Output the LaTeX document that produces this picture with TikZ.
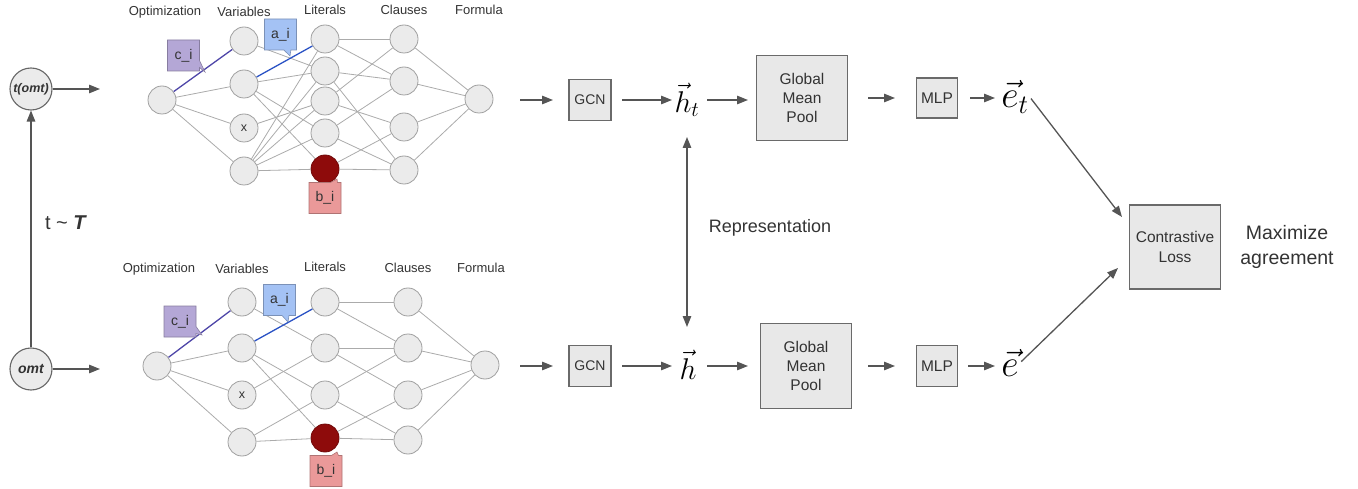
\RequirePackage{fix-cm}
\documentclass[tikz,border=0pt]{standalone}
\usepackage{fontspec}
\setmainfont{Liberation Sans}
\usetikzlibrary{arrows.meta,shapes.callouts}
\definecolor{nodefill}{HTML}{EBEBEB}
\definecolor{nodedraw}{HTML}{A0A0A0}
\definecolor{edgec}{HTML}{ABABAB}
\definecolor{boxfill}{HTML}{E8E8E8}
\definecolor{boxdraw}{HTML}{6A6A6A}
\definecolor{arrc}{HTML}{555555}
\definecolor{txt}{HTML}{333333}
\definecolor{cpurple}{HTML}{B4A7D6}
\definecolor{cblue}{HTML}{A4C2F4}
\definecolor{cred}{HTML}{EA9999}
\definecolor{dred}{HTML}{8E0B0B}
\definecolor{purpline}{HTML}{4E46A8}
\definecolor{blueline}{HTML}{2A52C4}
\newcommand{\myfs}[1]{\fontsize{#1}{#1}\selectfont}
\begin{document}
\begin{tikzpicture}[x=1pt,y=-1pt,
 gn/.style={circle,draw=nodedraw,fill=nodefill,line width=0.8pt,minimum size=28pt,inner sep=0pt,font=\myfs{12.5},text=txt},
 rn/.style={gn,fill=dred,draw=dred!80!black},
 ed/.style={draw=edgec,line width=0.8pt},
 lbl/.style={font=\myfs{13},text=txt},
 box/.style={draw=boxdraw,fill=boxfill,line width=1.2pt,align=center,text=txt,inner sep=0pt},
 arr/.style={draw=arrc,line width=1.3pt,-{Triangle[length=11pt,width=8.5pt]}},
 darr/.style={draw=arrc,line width=1.3pt,{Triangle[length=11pt,width=8.5pt]}-{Triangle[length=11pt,width=8.5pt]}},
 co/.style={rectangle callout,draw=#1!75!black,fill=#1,line width=0.6pt,minimum width=32pt,minimum height=31pt,inner sep=0pt,font=\myfs{14},text=txt,callout pointer width=7pt},
 circ/.style={circle,draw=arrc!90,fill=nodefill,line width=1.1pt,minimum size=42pt,inner sep=0pt,text=txt},
 ]
\useasboundingbox (0,0) rectangle (1358,489);

% ---------- left ----------
\node[circ,font=\bfseries\itshape\myfs{12.5}] (tomt) at (31,89) {t(omt)};
\node[circ,font=\bfseries\itshape\myfs{14}] (omt) at (31,369) {omt};
\coordinate (tgo) at (100,89);
\coordinate (ogo) at (100,369);
\draw[arr] (tomt) -- (tgo);
\draw[arr] (omt) -- (ogo);
\draw[arr] (omt) -- (tomt);
\node[font=\myfs{20},text=txt] (tt) at (66,223) {t \symbol{126} \textbf{\textit{T}}};

% ---------- top graph ----------
\node[lbl] (tlO) at (165,12) {Optimization};
\node[lbl] (tlV) at (244,12) {Variables};
\node[lbl] (tlL) at (325,10) {Literals};
\node[lbl] (tlC) at (404,10) {Clauses};
\node[lbl] (tlF) at (479,10) {Formula};
\node[gn] (tO) at (162,100) {};
\node[gn] (tV1) at (244,41) {};
\node[gn] (tV2) at (244,84) {};
\node[gn] (tV3) at (244,128) {x};
\node[gn] (tV4) at (244,171) {};
\node[gn] (tL1) at (325,39) {};
\node[gn] (tL2) at (325,71) {};
\node[gn] (tL3) at (325,101) {};
\node[gn] (tL4) at (325,133) {};
\node[rn] (tL5) at (325,169) {};
\node[gn] (tC1) at (404,39) {};
\node[gn] (tC2) at (404,81) {};
\node[gn] (tC3) at (404,127) {};
\node[gn] (tC4) at (404,170) {};
\node[gn] (tF) at (479,99) {};
\foreach \a/\b in {tO/tV2,tO/tV3,tO/tV4,
  tV1/tL2,tV2/tL2,tV2/tL4,tV2/tL5,tV3/tL3,tV4/tL1,tV4/tL2,tV4/tL3,tV4/tL4,tV4/tL5,
  tL1/tC1,tL1/tC2,tL2/tC2,tL2/tC4,tL3/tC1,tL3/tC3,tL4/tC2,tL4/tC4,tL5/tC3,tL5/tC4,
  tC1/tF,tC2/tF,tC3/tF,tC4/tF}
  \draw[ed] (\a) -- (\b);
\draw[draw=purpline,line width=1.3pt] (tO) -- (tV1);
\draw[draw=blueline,line width=1.3pt] (tV2) -- (tL1);
\node[co=cpurple,callout absolute pointer={(205,72)}] (tci) at (183.5,55.5) {c\_i};
\node[co=cblue,callout absolute pointer={(290,56)}] (tai) at (280.5,34.5) {a\_i};
\node[co=cred,callout absolute pointer={(337,179)}] (tbi) at (325,198) {b\_i};

% ---------- bottom graph ----------
\node[lbl] (blO) at (159,269) {Optimization};
\node[lbl] (blV) at (242,269) {Variables};
\node[lbl] (blL) at (325,267) {Literals};
\node[lbl] (blC) at (408,268) {Clauses};
\node[lbl] (blF) at (481,268) {Formula};
\node[gn] (bO) at (157,366) {};
\node[gn] (bV1) at (242,302) {};
\node[gn] (bV2) at (242,348) {};
\node[gn] (bV3) at (242,395) {x};
\node[gn] (bV4) at (242,442) {};
\node[gn] (bL1) at (325,302) {};
\node[gn] (bL2) at (325,348) {};
\node[gn] (bL3) at (325,395) {};
\node[rn] (bL5) at (325,438) {};
\node[gn] (bC1) at (408,302) {};
\node[gn] (bC2) at (408,348) {};
\node[gn] (bC3) at (408,395) {};
\node[gn] (bC4) at (408,440) {};
\node[gn] (bF) at (485,365) {};
\foreach \a/\b in {bO/bV2,bO/bV3,bO/bV4,
  bV1/bL2,bV2/bL3,bV2/bL5,bV3/bL2,bV4/bL3,bV4/bL5,
  bL1/bC1,bL1/bC2,bL2/bC2,bL2/bC3,bL3/bC2,bL3/bC4,bL5/bC3,bL5/bC4,
  bC1/bF,bC2/bF,bC3/bF,bC4/bF}
  \draw[ed] (\a) -- (\b);
\draw[draw=purpline,line width=1.3pt] (bO) -- (bV1);
\draw[draw=blueline,line width=1.3pt] (bV2) -- (bL1);
\node[co=cpurple,callout absolute pointer={(202,335)}] (bci) at (180,321.5) {c\_i};
\node[co=cblue,callout absolute pointer={(288,322)}] (bai) at (279.5,300) {a\_i};
\node[co=cred,callout absolute pointer={(337,452)}] (bbi) at (326,471) {b\_i};

% ---------- pipeline top ----------
\coordinate (in1) at (520,100);
\node[box,minimum width=42pt,minimum height=41pt,font=\myfs{14}] (gcn1) at (590,100) {GCN};
\node[inner sep=1pt] (ht) at (687,100) {\myfs{30}$\vec{h}_t$};
\node[box,minimum width=91pt,minimum height=85pt,font=\fontsize{15.5}{19}\selectfont] (gmp1) at (802,98) {Global\\Mean\\Pool};
\node[box,minimum width=41pt,minimum height=40pt,font=\myfs{15.5}] (mlp1) at (937,98) {MLP};
\node[inner sep=1pt] (et) at (1015,97) {\myfs{38}$\vec{e}_t$};
\draw[arr,shorten >=37pt] (in1) -- (gcn1.center);
\draw[arr,shorten <=32pt,shorten >=15pt] (gcn1.center) -- (ht.center);
\draw[arr,shorten <=20pt,shorten >=54pt] (ht.center) -- (ht.center -| gmp1.center);
\draw[arr,shorten <=66pt,shorten >=42pt] (gmp1.center) -- (mlp1.center);
\draw[arr,shorten <=33pt,shorten >=20pt] (mlp1.center) -- (mlp1.center -| et.center);

% ---------- pipeline bottom ----------
\coordinate (in2) at (520,366);
\node[box,minimum width=42pt,minimum height=41pt,font=\myfs{14}] (gcn2) at (590,366) {GCN};
\node[inner sep=1pt] (h) at (688,365) {\myfs{30}$\vec{h}$};
\node[box,minimum width=91pt,minimum height=85pt,font=\fontsize{15.5}{19}\selectfont] (gmp2) at (806,366) {Global\\Mean\\Pool};
\node[box,minimum width=41pt,minimum height=41pt,font=\myfs{15.5}] (mlp2) at (937,366) {MLP};
\node[inner sep=1pt] (e) at (1010,363) {\myfs{38}$\vec{e}$};
\draw[arr,shorten >=37pt] (in2) -- (gcn2.center);
\draw[arr,shorten <=32pt,shorten >=16pt] (gcn2.center) -- (gcn2.center -| h.center);
\draw[arr,shorten <=19pt,shorten >=58pt] (gcn2.center -| h.center) -- (gmp2.center);
\draw[arr,shorten <=62pt,shorten >=42pt] (gmp2.center) -- (mlp2.center);
\draw[arr,shorten <=31pt,shorten >=15pt] (mlp2.center) -- (mlp2.center -| e.center);

% ---------- middle ----------
\draw[darr,shorten <=37pt,shorten >=39pt] (ht.center) -- (ht.center |- gcn2.center);
\node[font=\myfs{18},text=txt] (rep) at (770,228) {Representation};

% ---------- contrastive ----------
\node[box,minimum width=91pt,minimum height=84pt,font=\fontsize{15.5}{20}\selectfont] (cl) at (1175,247) {Contrastive\\Loss};
\coordinate (clin1) at (1122,217);
\coordinate (clin2) at (1118,268);
\draw[arr,shorten <=2pt] (et.east) -- (clin1);
\draw[arr,shorten <=2pt] (e.east) -- (clin2);
\node[align=center,font=\fontsize{19.5}{25}\selectfont,text=txt] (maxag) at (1287,247) {Maximize\\agreement};
\end{tikzpicture}
\end{document}
